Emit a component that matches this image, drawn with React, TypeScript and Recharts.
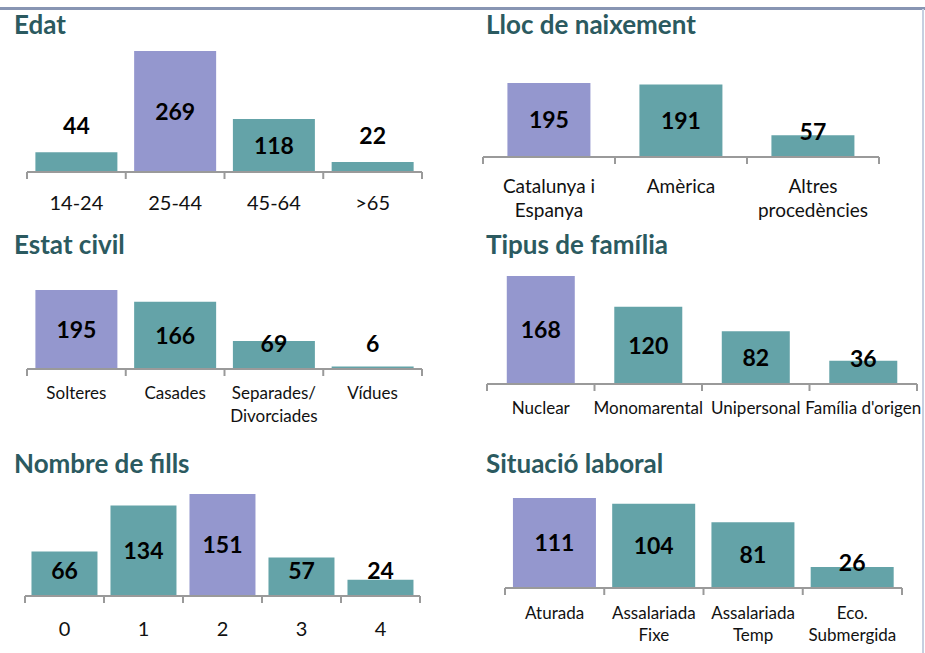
import React from 'react';
import { BarChart, Bar, XAxis, YAxis, Cell, LabelList } from 'recharts';

const edatCats = ['14-24', '25-44', '45-64', '>65'];
const edatValues = [44, 269, 118, 22];

const llocCats = ['Catalunya i\nEspanya', 'Amèrica', 'Altres\nprocedències'];
const llocValues = [195, 191, 57];

const estatCats = ['Solteres', 'Casades', 'Separades/\nDivorciades', 'Vídues'];
const estatValues = [195, 166, 69, 6];

const tipusCats = ['Nuclear', 'Monomarental', 'Unipersonal', "Família d'origen"];
const tipusValues = [168, 120, 82, 36];

const fillsCats = ['0', '1', '2', '3', '4'];
const fillsValues = [66, 134, 151, 57, 24];

const laboralCats = ['Aturada', 'Assalariada\nFixe', 'Assalariada\nTemp', 'Eco.\nSubmergida'];
const laboralValues = [111, 104, 81, 26];

const TEAL = '#64a3a8';
const PURPLE = '#9497ce';
const TITLE = '#2b5a60';
const AXIS = '#9a9a9a';
const FONT = 'Lato, "Open Sans", sans-serif';

type Box = { x: number; y: number; w: number; h: number };

interface PanelProps {
  cats: string[];
  values: number[];
  box: Box;
  axisLeft: number;
  axisRight: number;
  baseline: number;
  maxTop: number;
  gap: string;
  tickFont: number;
  tickFirst: number;
  tickLineH: number;
  labelMode: 'above' | 'clamp';
}

function Panel(p: PanelProps) {
  const data = p.cats.map((c, i) => ({ name: c, value: p.values[i] }));
  const max = Math.max(...p.values);
  const margin = {
    top: p.maxTop - p.box.y,
    bottom: 0,
    left: p.axisLeft - p.box.x,
    right: p.box.x + p.box.w - p.axisRight,
  };
  const axisH = p.box.y + p.box.h - p.baseline;
  const base = p.baseline - p.box.y;
  const band = (p.axisRight - p.axisLeft) / data.length;

  const renderTick = (props: any) => {
    const { x, index, payload } = props;
    const lines = String(payload.value).split('\n');
    return (
      <g>
        <line x1={x - band / 2} x2={x - band / 2} y1={base} y2={base + 7} stroke={AXIS} strokeWidth={2} />
        {index === data.length - 1 && (
          <line x1={x + band / 2} x2={x + band / 2} y1={base} y2={base + 7} stroke={AXIS} strokeWidth={2} />
        )}
        <text textAnchor="middle" fontFamily={FONT} fontSize={p.tickFont} fill="#111">
          {lines.map((l, i) => (
            <tspan key={i} x={x} y={base + p.tickFirst + i * p.tickLineH} dy="0.36em">
              {l}
            </tspan>
          ))}
        </text>
      </g>
    );
  };

  // centred in the bar, but kept clear of the axis for short bars
  const renderLabel = (props: any) => {
    const x = Number(props.x);
    const y = Number(props.y);
    const width = Number(props.width);
    const height = Number(props.height);
    let cy = y + height / 2;
    if (p.labelMode === 'above') {
      if (height < 40) cy = y - 26;
    } else {
      cy = Math.min(cy, y + height - 25);
    }
    return (
      <text
        x={x + width / 2}
        y={cy}
        dy="0.36em"
        textAnchor="middle"
        fontFamily={FONT}
        fontWeight="bold"
        fontSize={23}
        fill="#000"
      >
        {props.value}
      </text>
    );
  };

  return (
    <div style={{ position: 'absolute', left: p.box.x, top: p.box.y }}>
      <BarChart width={p.box.w} height={p.box.h} data={data} margin={margin} barCategoryGap={p.gap}>
        <XAxis
          dataKey="name"
          interval={0}
          tickLine={false}
          axisLine={{ stroke: AXIS, strokeWidth: 2 }}
          height={axisH}
          tick={renderTick}
        />
        <YAxis hide domain={[0, max]} />
        <Bar dataKey="value" isAnimationActive={false}>
          {data.map((d, i) => (
            <Cell key={i} fill={d.value === max ? PURPLE : TEAL} />
          ))}
          <LabelList dataKey="value" content={renderLabel} />
        </Bar>
      </BarChart>
    </div>
  );
}

const titles = [
  { text: 'Edat', x: 14, y: 34 },
  { text: 'Lloc de naixement', x: 486, y: 34 },
  { text: 'Estat civil', x: 14, y: 254 },
  { text: 'Tipus de família', x: 486, y: 254 },
  { text: 'Nombre de fills', x: 14, y: 473 },
  { text: 'Situació laboral', x: 486, y: 473 },
];

export default function App() {
  return (
    <div style={{ position: 'absolute', left: 0, top: 0, width: 925, height: 653, background: '#fff', overflow: 'hidden' }}>
      <svg width={925} height={653} style={{ position: 'absolute', left: 0, top: 0 }}>
        <rect x={0} y={7} width={925} height={3} fill="#8895b3" />
        <rect x={922} y={9} width={2} height={644} fill="#c6cfe0" />
        {titles.map((t) => (
          <text key={t.text} x={t.x} y={t.y} fontFamily={FONT} fontWeight="bold" fontSize={26} fill={TITLE}>
            {t.text}
          </text>
        ))}
      </svg>
      <Panel
        cats={edatCats}
        values={edatValues}
        box={{ x: 0, y: 40, w: 460, h: 185 }}
        axisLeft={27}
        axisRight={422}
        baseline={172}
        maxTop={51}
        gap="8.5%"
        tickFont={20}
        tickFirst={31}
        tickLineH={24}
        labelMode="above"
      />
      <Panel
        cats={llocCats}
        values={llocValues}
        box={{ x: 460, y: 40, w: 460, h: 185 }}
        axisLeft={483}
        axisRight={879}
        baseline={157}
        maxTop={83}
        gap="18.5%"
        tickFont={19}
        tickFirst={29}
        tickLineH={24}
        labelMode="clamp"
      />
      <Panel
        cats={estatCats}
        values={estatValues}
        box={{ x: 0, y: 265, w: 460, h: 170 }}
        axisLeft={27}
        axisRight={422}
        baseline={369}
        maxTop={290}
        gap="8.5%"
        tickFont={17}
        tickFirst={24}
        tickLineH={23}
        labelMode="clamp"
      />
      <Panel
        cats={tipusCats}
        values={tipusValues}
        box={{ x: 460, y: 265, w: 462, h: 170 }}
        axisLeft={487}
        axisRight={917}
        baseline={384}
        maxTop={276}
        gap="18.4%"
        tickFont={17}
        tickFirst={24}
        tickLineH={23}
        labelMode="clamp"
      />
      <Panel
        cats={fillsCats}
        values={fillsValues}
        box={{ x: 0, y: 485, w: 460, h: 168 }}
        axisLeft={25}
        axisRight={420}
        baseline={596}
        maxTop={494}
        gap="8.2%"
        tickFont={20}
        tickFirst={33}
        tickLineH={24}
        labelMode="clamp"
      />
      <Panel
        cats={laboralCats}
        values={laboralValues}
        box={{ x: 460, y: 485, w: 462, h: 168 }}
        axisLeft={505}
        axisRight={902}
        baseline={588}
        maxTop={498}
        gap="8%"
        tickFont={17}
        tickFirst={25}
        tickLineH={22}
        labelMode="clamp"
      />
    </div>
  );
}
